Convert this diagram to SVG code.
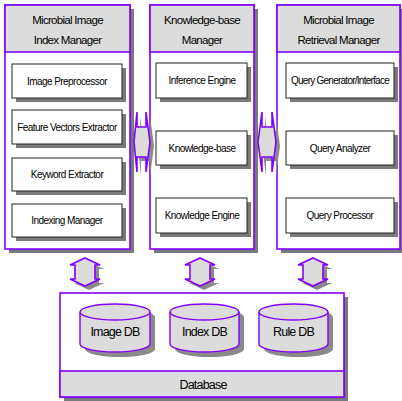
<svg xmlns="http://www.w3.org/2000/svg" width="402" height="401" viewBox="0 0 402 401">
<defs>
<style>
.panel{fill:#ffffff;stroke:#8000ff;stroke-width:1.6}
.hdr{fill:#dcdcdc;stroke:#8000ff;stroke-width:1.6}
.shadow{fill:#7a7a7a}
.box{fill:#ffffff;stroke:#222222;stroke-width:1}
.arrow{fill:#dcdcdc;stroke:#8000ff;stroke-width:1.6;stroke-linejoin:miter}
.ashadow{fill:#8a8a8a}
.cyl{fill:#dcdcdc;stroke:#8000ff;stroke-width:1.4}
text{font-family:"Liberation Sans",Arial,sans-serif;fill:#000;text-anchor:middle}
.h{font-size:11.5px;letter-spacing:-0.7px}
.t{font-size:10px;letter-spacing:-0.55px}
.d{font-size:12.5px;letter-spacing:-0.8px}
</style>
</defs>
<rect width="402" height="401" fill="#ffffff"/>

<g id="index-manager">
<rect class="shadow" x="9" y="9" width="125" height="244"/>
<rect class="panel" x="5" y="5" width="125" height="244"/>
<rect class="hdr" x="5" y="5" width="125" height="47"/>
<text class="h" x="67.5" y="24">Microbial Image</text>
<text class="h" x="67.5" y="44">Index Manager</text>
<g id="image-preprocessor"><rect class="shadow" x="16" y="68" width="110" height="34"/><rect class="box" x="12" y="64" width="110" height="34"/><text class="t" x="67" y="84.5">Image Preprocessor</text></g>
<g id="feature-vectors-extractor"><rect class="shadow" x="16" y="114" width="110" height="34"/><rect class="box" x="12" y="110" width="110" height="34"/><text class="t" x="67" y="130.5">Feature Vectors Extractor</text></g>
<g id="keyword-extractor"><rect class="shadow" x="16" y="162" width="110" height="33"/><rect class="box" x="12" y="158" width="110" height="33"/><text class="t" x="67" y="178">Keyword Extractor</text></g>
<g id="indexing-manager"><rect class="shadow" x="16" y="208" width="110" height="33"/><rect class="box" x="12" y="204" width="110" height="33"/><text class="t" x="67" y="224">Indexing Manager</text></g>
</g>

<g id="knowledge-base-manager">
<rect class="shadow" x="154" y="9" width="104" height="244"/>
<rect class="panel" x="150" y="5" width="104" height="244"/>
<rect class="hdr" x="150" y="5" width="104" height="47"/>
<text class="h" x="202" y="24">Knowledge-base</text>
<text class="h" x="202" y="44">Manager</text>
<g id="inference-engine"><rect class="shadow" x="160" y="67" width="91" height="35"/><rect class="box" x="156" y="63" width="91" height="35"/><text class="t" x="202" y="84">Inference Engine</text></g>
<g id="knowledge-base"><rect class="shadow" x="160" y="135" width="91" height="34"/><rect class="box" x="156" y="131" width="91" height="34"/><text class="t" x="202" y="151.5">Knowledge-base</text></g>
<g id="knowledge-engine"><rect class="shadow" x="160" y="202" width="91" height="35"/><rect class="box" x="156" y="198" width="91" height="35"/><text class="t" x="202" y="219">Knowledge Engine</text></g>
</g>

<g id="retrieval-manager">
<rect class="shadow" x="281" y="9" width="123" height="244"/>
<rect class="panel" x="277" y="5" width="123" height="244"/>
<rect class="hdr" x="277" y="5" width="123" height="47"/>
<text class="h" x="338.5" y="24">Microbial Image</text>
<text class="h" x="338.5" y="44">Retrieval Manager</text>
<g id="query-generator"><rect class="shadow" x="290" y="67" width="108" height="35"/><rect class="box" x="286" y="63" width="108" height="35"/><text class="t" x="340" y="84" style="letter-spacing:-0.75px">Query Generator/Interface</text></g>
<g id="query-analyzer"><rect class="shadow" x="290" y="135" width="108" height="34"/><rect class="box" x="286" y="131" width="108" height="34"/><text class="t" x="340" y="151.5">Query Analyzer</text></g>
<g id="query-processor"><rect class="shadow" x="290" y="202" width="108" height="35"/><rect class="box" x="286" y="198" width="108" height="35"/><text class="t" x="340" y="219">Query Processor</text></g>
</g>

<g id="database">
<rect class="shadow" x="64" y="297" width="284" height="104"/>
<rect class="panel" x="60" y="293" width="284" height="104"/>
<rect class="hdr" x="60" y="371" width="284" height="26"/>
<text class="d" x="203" y="389">Database</text>
<g id="image-db">
<path class="ashadow" d="M85,317 v32 a35,8 0 0 0 70,0 v-32 a35,8 0 0 0 -70,0 z"/>
<path class="cyl" d="M80,312 v32 a35,8 0 0 0 70,0 v-32"/>
<ellipse class="cyl" cx="115" cy="312" rx="35" ry="8"/>
<text class="d" x="115" y="336">Image DB</text>
</g>
<g id="index-db">
<path class="ashadow" d="M175,317 v32 a34.5,8 0 0 0 69,0 v-32 a34.5,8 0 0 0 -69,0 z"/>
<path class="cyl" d="M170,312 v32 a34.5,8 0 0 0 69,0 v-32"/>
<ellipse class="cyl" cx="204.5" cy="312" rx="34.5" ry="8"/>
<text class="d" x="204.5" y="336">Index DB</text>
</g>
<g id="rule-db">
<path class="ashadow" d="M264,317 v32 a34.5,8 0 0 0 69,0 v-32 a34.5,8 0 0 0 -69,0 z"/>
<path class="cyl" d="M259,312 v32 a34.5,8 0 0 0 69,0 v-32"/>
<ellipse class="cyl" cx="293.5" cy="312" rx="34.5" ry="8"/>
<text class="d" x="293.5" y="336">Rule DB</text>
</g>
</g>

<g id="connectors">
<path class="ashadow" d="M138,146 L141,116 L141,131 L150,131 L150,116 L154,146 L150,176 L150,161 L141,161 L141,176 Z"/>
<path class="arrow" d="M134,142 L137,112 L137,127 L146,127 L146,112 L150,142 L146,172 L146,157 L137,157 L137,172 Z"/>
<path class="ashadow" d="M262,146 L266,116 L266,131 L276,131 L276,116 L280,146 L276,176 L276,161 L266,161 L266,176 Z"/>
<path class="arrow" d="M258,142 L262,112 L262,127 L272,127 L272,112 L276,142 L272,172 L272,157 L262,157 L262,172 Z"/>
<path class="ashadow" d="M89,262 L104,269 L99,269 L99,283 L104,283 L89,290 L74,283 L79,283 L79,269 L74,269 Z"/>
<path class="arrow" d="M85,258 L100,265 L95,265 L95,279 L100,279 L85,286 L70,279 L75,279 L75,265 L70,265 Z"/>
<path class="ashadow" d="M204,262 L219,269 L214,269 L214,283 L219,283 L204,290 L189,283 L194,283 L194,269 L189,269 Z"/>
<path class="arrow" d="M200,258 L215,265 L210,265 L210,279 L215,279 L200,286 L185,279 L190,279 L190,265 L185,265 Z"/>
<path class="ashadow" d="M317,262 L332,269 L327,269 L327,283 L332,283 L317,290 L302,283 L307,283 L307,269 L302,269 Z"/>
<path class="arrow" d="M313,258 L328,265 L323,265 L323,279 L328,279 L313,286 L298,279 L303,279 L303,265 L298,265 Z"/>
</g>
</svg>
